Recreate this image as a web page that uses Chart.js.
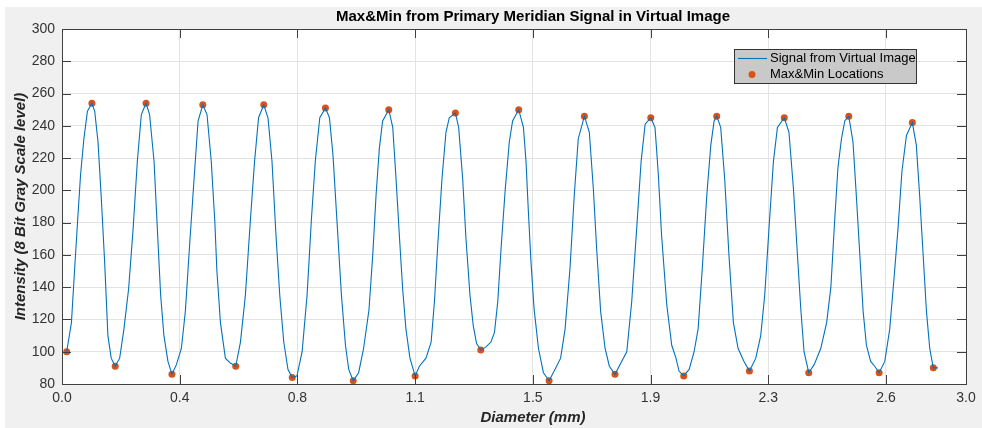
<!DOCTYPE html>
<html>
<head>
<meta charset="utf-8">
<script src="https://cdn.jsdelivr.net/npm/chart.js@4/dist/chart.umd.min.js"></script>
<style>
  html, body { margin: 0; padding: 0; background: #fff; }
  #wrap { position: relative; width: 982px; height: 428px; }
</style>
</head>
<body>
<div id="wrap"><canvas id="grafico" width="982" height="428"></canvas></div>
<script>
// Signal (x = sample position on the axis, y = gray level)
const signalX = [
  2.0, 4.0, 5.4, 6.8, 7.9, 9.3, 10.8, 12.7,
  13.9, 15.3, 16.7, 18.1, 19.5, 20.9, 22.6,
  24.5, 26.3, 28.3, 30.2, 32.0, 33.7, 35.7,
  37.2, 39.1, 40.5, 41.9, 43.3, 45.0, 46.7,
  48.6, 50.7, 52.4, 54.2, 56.1, 57.8, 59.8,
  61.6, 63.4, 64.9, 65.8, 67.3, 69.4, 71.5, 73.8,
  75.8, 77.9, 80.0, 81.8, 83.5, 85.7,
  87.5, 89.2, 90.9, 92.5, 94.2, 96.0, 97.8,
  99.8, 102.0, 104.1, 105.9, 107.6, 109.5, 111.9,
  113.6, 115.1, 116.8, 118.7, 120.4, 121.8, 123.7,
  126.0, 128.1, 130.4, 132.0, 133.4, 134.8, 136.2, 138.8,
  140.5, 141.9, 143.3, 144.7, 146.1, 147.8, 150.0,
  151.8, 154.6, 156.8, 158.2, 159.6, 161.4, 163.1, 164.5, 167.1,
  168.5, 170.2, 171.6, 173.3, 174.7, 176.1, 177.9,
  180.1, 182.2, 183.7, 185.1, 186.5, 188.3, 190.0, 191.4, 194.0,
  196.0, 197.1, 198.1, 199.2, 200.5, 202.4, 204.5, 206.9,
  209.4, 211.8, 213.7, 215.8, 217.6, 219.3, 221.9,
  224.0, 225.7, 227.1, 228.8, 230.7, 232.5, 234.9,
  237.0, 239.9, 242.0, 244.1, 246.0, 247.7, 250.1,
  251.9, 253.3, 254.7, 256.9, 259.0, 260.8, 262.1, 264.1,
  266.4, 268.5, 270.2, 272.0, 273.9, 275.6, 277.0, 278.1,
  279.8, 281.5, 283.3, 285.2, 287.2, 289.7, 292.0,
  294.7, 296.8, 298.5, 300.3, 302.2, 303.9, 306.8,
  308.8, 310.7, 312.4, 313.8, 315.2, 317.2,
  319.5, 322.3, 324.8, 326.6, 328.2, 329.6, 331.1, 332.5, 334.2,
  336.0, 337.4, 338.9, 340.3, 341.7, 343.5, 345.2, 347.1,
  349.5, 351.6, 353.4, 355.1, 356.8, 358.7, 361.2,
  362.9, 364.3, 365.8, 367.2, 368.6, 370.1, 372.1
];
const signalY = [
  100, 118, 152, 185, 210, 232, 249, 254,
  249, 230, 195, 156, 110, 96, 91,
  96, 114, 139, 176, 218, 247, 254,
  247, 218, 176, 135, 110, 94, 86,
  92, 102, 125, 166, 207, 243, 253,
  247, 218, 181, 150, 118, 96, 93, 91,
  106, 135, 181, 218, 245, 253,
  245, 218, 172, 135, 106, 89, 84,
  85, 100, 135, 181, 218, 245, 251,
  245, 222, 181, 135, 104, 89, 82,
  87, 102, 126, 160, 197, 226, 243, 250,
  239, 207, 172, 139, 114, 96, 85,
  91, 96, 106, 131, 166, 207, 236, 245, 248,
  239, 207, 170, 135, 116, 105, 101,
  103, 106, 112, 131, 164, 201, 230, 243, 250,
  239, 218, 187, 156, 127, 102, 87, 82,
  89, 96, 114, 152, 197, 232, 246,
  236, 201, 164, 125, 102, 91, 86,
  92, 100, 131, 176, 218, 241, 245,
  239, 210, 172, 129, 104, 96, 88, 85,
  89, 100, 114, 152, 197, 228, 243, 246,
  239, 207, 160, 118, 102, 94, 88,
  96, 110, 135, 176, 218, 239, 245,
  236, 201, 160, 127, 100, 87,
  92, 102, 118, 140, 181, 214, 232, 243, 246,
  230, 197, 160, 125, 104, 94, 91, 87,
  94, 114, 145, 176, 212, 234, 242,
  228, 197, 160, 125, 102, 90, 90
];

// Max & Min locations
const maxX = [12.7, 35.7, 59.8, 85.7, 111.9, 138.8, 167.1, 194.0, 221.9, 250.1, 278.1, 306.8, 334.2, 361.2];
const maxY = [254, 254, 253, 253, 251, 250, 248, 250, 246, 245, 246, 245, 246, 242];
const minX = [2.0, 22.6, 46.7, 73.8, 97.8, 123.7, 150.0, 177.9, 206.9, 234.9, 264.1, 292.0, 317.2, 347.1, 370.1];
const minY = [100, 91, 86, 91, 84, 82, 85, 101, 82, 86, 85, 88, 87, 87, 90];

// Axis ticks
const xTickValues = [0, 50, 100, 150, 200, 250, 300, 350, 384];
const xTickLabels = ["0.0", "0.4", "0.8", "1.1", "1.5", "1.9", "2.3", "2.6", "3.0"];

const titulo = "Max&Min from Primary Meridian Signal in Virtual Image";
const tituloX = "Diameter (mm)";
const tituloY = "Intensity (8 Bit Gray Scale level)";

const FONT = "'Liberation Sans', Arial, Helvetica, sans-serif";
Chart.defaults.font.family = FONT;

const signalData = signalX.map((x, i) => ({ x: x, y: signalY[i] }));
const extremaData = maxX.map((x, i) => ({ x: x, y: maxY[i] }))
  .concat(minX.map((x, i) => ({ x: x, y: minY[i] })));

// fondo, caja, ticks hacia adentro, titulos y leyenda estilo MATLAB
const matlabLook = {
  id: "matlabLook",
  beforeDraw(chart) {
    const { ctx, chartArea: a } = chart;
    ctx.save();
    ctx.fillStyle = "#ffffff";
    ctx.fillRect(0, 0, chart.width, chart.height);
    ctx.fillStyle = "#f0f0f0";
    ctx.fillRect(5, 7, chart.width - 5, chart.height - 7);
    ctx.fillStyle = "#ffffff";
    ctx.fillRect(a.left, a.top, a.right - a.left, a.bottom - a.top);
    ctx.restore();
  },
  afterDraw(chart) {
    const { ctx, chartArea: a } = chart;
    const sx = chart.scales.x;
    const sy = chart.scales.y;
    ctx.save();
    ctx.strokeStyle = "#404040";
    ctx.lineWidth = 1;
    ctx.beginPath();
    sy.ticks.forEach((t) => {
      const py = Math.round(sy.getPixelForValue(t.value)) + 0.5;
      ctx.moveTo(a.left, py); ctx.lineTo(a.left + 9, py);
      ctx.moveTo(a.right, py); ctx.lineTo(a.right - 9, py);
    });
    sx.ticks.forEach((t) => {
      const px = Math.round(sx.getPixelForValue(t.value)) + 0.5;
      ctx.moveTo(px, a.bottom); ctx.lineTo(px, a.bottom - 9);
      ctx.moveTo(px, a.top); ctx.lineTo(px, a.top + 9);
    });
    ctx.stroke();
    ctx.strokeRect(a.left + 0.5, a.top + 0.5, a.right - a.left, a.bottom - a.top);

    // titulos
    ctx.fillStyle = "#000000";
    ctx.textAlign = "center";
    ctx.textBaseline = "middle";
    ctx.font = "bold 15px " + FONT;
    ctx.fillText(titulo, 533, 17);
    ctx.fillStyle = "#262626";
    ctx.font = "italic bold 15px " + FONT;
    ctx.fillText(tituloX, 533, 418);
    ctx.translate(21, (a.top + a.bottom) / 2);
    ctx.rotate(-Math.PI / 2);
    ctx.fillText(tituloY, 0, 0);
    ctx.setTransform(1, 0, 0, 1, 0, 0);

    // leyenda
    const ds = chart.data.datasets;
    ctx.fillStyle = "#c9c9c9";
    ctx.fillRect(734, 49, 183, 34);
    ctx.strokeStyle = "#333333";
    ctx.strokeRect(734.5, 49.5, 182, 34);
    ctx.strokeStyle = ds[0].borderColor;
    ctx.lineWidth = ds[0].borderWidth;
    ctx.beginPath();
    ctx.moveTo(738, 58.5); ctx.lineTo(767, 58.5);
    ctx.stroke();
    ctx.fillStyle = ds[1].backgroundColor;
    ctx.beginPath();
    ctx.arc(752, 74.5, ds[1].pointRadius, 0, Math.PI * 2);
    ctx.fill();
    ctx.fillStyle = "#000000";
    ctx.textAlign = "left";
    ctx.font = "13px " + FONT;
    ctx.fillText(ds[0].label, 770, 58.5);
    ctx.fillText(ds[1].label, 770, 74.5);
    ctx.restore();
  }
};

const chart = new Chart("grafico", {
  type: "line",
  data: {
    datasets: [
      {
        label: "Signal from Virtual Image",
        data: signalData,
        borderColor: "#0072BD",
        borderWidth: 1.1,
        pointRadius: 0,
        tension: 0,
        fill: false,
      },
      {
        label: "Max&Min Locations",
        data: extremaData,
        showLine: false,
        pointRadius: 3.5,
        pointBorderWidth: 0,
        backgroundColor: "#D95319",
        borderColor: "#D95319",
      },
    ],
  },
  options: {
    responsive: false,
    animation: false,
    devicePixelRatio: 1,
    layout: { padding: { left: 0, right: 16, top: 29, bottom: 0 } },
    plugins: {
      legend: { display: false },
      title: { display: false },
      tooltip: { enabled: false },
    },
    scales: {
      x: {
        type: "linear",
        min: 0,
        max: 384,
        afterBuildTicks: (scale) => {
          scale.ticks = xTickValues.map((v) => ({ value: v }));
        },
        afterFit: (scale) => { scale.height = 44; },
        ticks: {
          autoSkip: false,
          maxRotation: 0,
          padding: 6,
          color: "#333333",
          font: { size: 14 },
          callback: (value, index) => xTickLabels[index],
        },
        grid: { color: "#e3e3e3", drawTicks: false },
        border: { display: false },
      },
      y: {
        min: 80,
        max: 300,
        afterFit: (scale) => { scale.width = 62; },
        ticks: {
          stepSize: 20,
          padding: 7,
          color: "#333333",
          font: { size: 14 },
        },
        grid: { color: "#e3e3e3", drawTicks: false },
        border: { display: false },
      },
    },
  },
  plugins: [matlabLook],
});
</script>
</body>
</html>
